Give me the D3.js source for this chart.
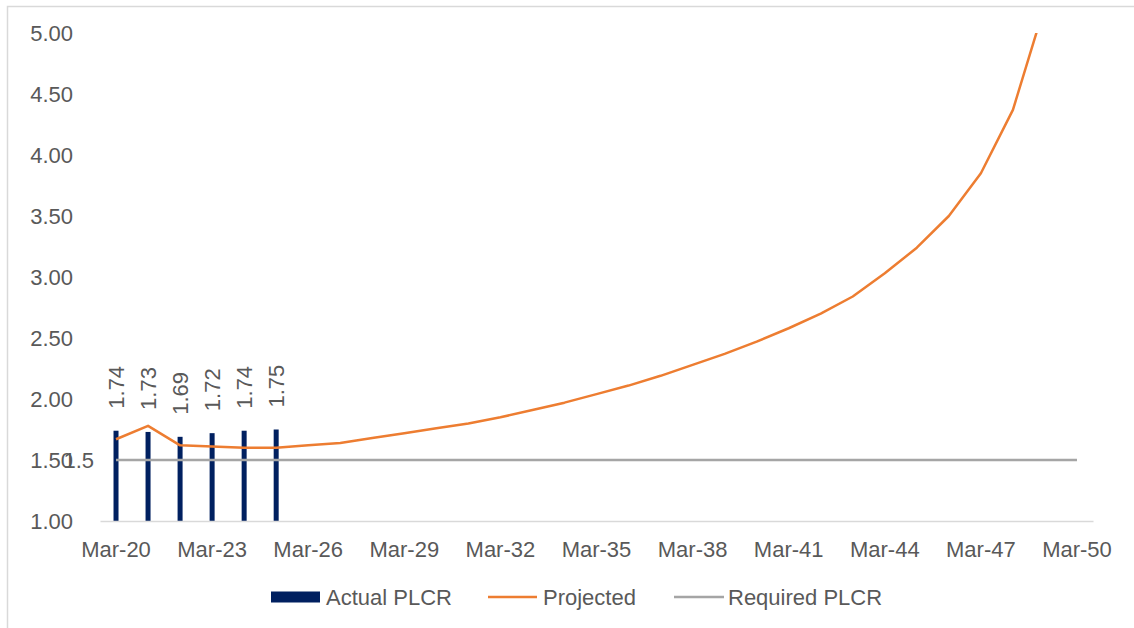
<!DOCTYPE html>
<html>
<head>
<meta charset="utf-8">
<script src="https://cdn.jsdelivr.net/npm/d3@7"></script>
<style>
  html, body { margin: 0; padding: 0; background: #fff; }
  svg { display: block; font-family: "Liberation Sans", Arial, sans-serif; }
</style>
</head>
<body>
<svg id="chart" width="1134" height="628"></svg>
<script>
// ---- data ----
const years = d3.range(20, 51);
const categories = years.map(yr => "Mar-" + yr);
const tickLabels = ["Mar-20","Mar-23","Mar-26","Mar-29","Mar-32","Mar-35","Mar-38","Mar-41","Mar-44","Mar-47","Mar-50"];
const actualCats = ["Mar-20","Mar-21","Mar-22","Mar-23","Mar-24","Mar-25"];
const actualValues = [1.74, 1.73, 1.69, 1.72, 1.74, 1.75];
const projectedCats = categories.slice(0, 30); // Mar-20 .. Mar-49
const projectedValues = [1.67, 1.78, 1.62, 1.61, 1.60, 1.60, 1.62, 1.64, 1.68, 1.72,
                         1.76, 1.80, 1.85, 1.91, 1.97, 2.04, 2.11, 2.19, 2.28, 2.37,
                         2.47, 2.58, 2.70, 2.84, 3.03, 3.24, 3.50, 3.85, 4.37, 5.23];
const requiredValue = 1.5;
const yTicks = [1.0, 1.5, 2.0, 2.5, 3.0, 3.5, 4.0, 4.5, 5.0];
const legendItems = ["Actual PLCR", "Projected", "Required PLCR"];

(function () {
// ---- layout ----
const svg = d3.select("#chart");
const pL = 100, pR = 1093, pT = 33, pB = 521;
const textColor = "#595959";
const navy = "#002060", orange = "#ED7D31", grey = "#A5A5A5";
const fs = 22;

const x = d3.scaleBand().domain(categories).range([pL, pR]).paddingInner(0).paddingOuter(0);
const cx = c => x(c) + x.bandwidth() / 2;
const y = d3.scaleLinear().domain([1, 5]).range([pB, pT]);

// chart frame
svg.append("rect").attr("x", 7.5).attr("y", 6.5).attr("width", 1140).attr("height", 640)
  .attr("fill", "none").attr("stroke", "#d9d9d9").attr("stroke-width", 1.5);

// clip for plot area
svg.append("defs").append("clipPath").attr("id", "plotclip")
  .append("rect").attr("x", pL).attr("y", pT).attr("width", pR - pL).attr("height", pB - pT);

// y axis labels
const yAxis = d3.axisLeft(y).tickValues(yTicks).tickFormat(d3.format(".2f")).tickSize(0).tickPadding(0);
const yg = svg.append("g").attr("transform", `translate(73,0)`).call(yAxis);
yg.select(".domain").remove();
yg.selectAll("text").attr("fill", textColor).style("font-size", fs + "px")
  .style("font-family", '"Liberation Sans", Arial, sans-serif').attr("dy", "0.36em").attr("x", 0);

// bars
svg.append("g").selectAll("rect").data(actualValues).join("rect")
  .attr("x", (d, i) => cx(actualCats[i]) - 2.5)
  .attr("width", 5)
  .attr("y", d => y(d))
  .attr("height", d => pB - y(d))
  .attr("fill", navy);

// x axis line
const xAxis = d3.axisBottom(x).tickValues(tickLabels).tickSize(0).tickPadding(0);
const xg = svg.append("g").attr("transform", `translate(0,${pB})`).call(xAxis);
xg.select(".domain").attr("stroke", "#d9d9d9").attr("stroke-width", 1.5);
xg.selectAll("text").attr("fill", textColor).style("font-size", fs + "px")
  .style("font-family", '"Liberation Sans", Arial, sans-serif').attr("y", 36).attr("dy", 0);

// required line
svg.append("line")
  .attr("x1", cx(categories[0])).attr("x2", cx(categories[categories.length - 1]))
  .attr("y1", y(requiredValue)).attr("y2", y(requiredValue))
  .attr("stroke", grey).attr("stroke-width", 2.5);

// projected line
const line = d3.line().x((d, i) => cx(projectedCats[i])).y(d => y(d));
svg.append("path").datum(projectedValues)
  .attr("clip-path", "url(#plotclip)")
  .attr("d", line).attr("fill", "none").attr("stroke", orange)
  .attr("stroke-width", 2.5).attr("stroke-linejoin", "round");

// bar data labels (rotated)
svg.append("g").selectAll("text").data(actualValues).join("text")
  .attr("transform", (d, i) => `translate(${cx(actualCats[i]) + 8},${y(d) - 22}) rotate(-90)`)
  .attr("text-anchor", "start")
  .attr("fill", textColor).style("font-size", fs + "px")
  .text(d => d.toFixed(2));

// required line label
svg.append("text")
  .attr("x", cx(categories[0]) - 22).attr("y", y(requiredValue) + 8)
  .attr("text-anchor", "end").attr("fill", textColor).style("font-size", fs + "px")
  .text(String(requiredValue));

// legend
const lg = svg.append("g");
lg.append("rect").attr("x", 271).attr("y", 591.5).attr("width", 49).attr("height", 11).attr("fill", navy);
lg.append("text").attr("x", 326).attr("y", 605).attr("fill", textColor).style("font-size", fs + "px").text(legendItems[0]);
lg.append("line").attr("x1", 488).attr("x2", 537).attr("y1", 597).attr("y2", 597).attr("stroke", orange).attr("stroke-width", 2.5);
lg.append("text").attr("x", 543).attr("y", 605).attr("fill", textColor).style("font-size", fs + "px").text(legendItems[1]);
lg.append("line").attr("x1", 674).attr("x2", 724).attr("y1", 597).attr("y2", 597).attr("stroke", grey).attr("stroke-width", 2.5);
lg.append("text").attr("x", 728).attr("y", 605).attr("fill", textColor).style("font-size", fs + "px").text(legendItems[2]);
})();
</script>
</body>
</html>
